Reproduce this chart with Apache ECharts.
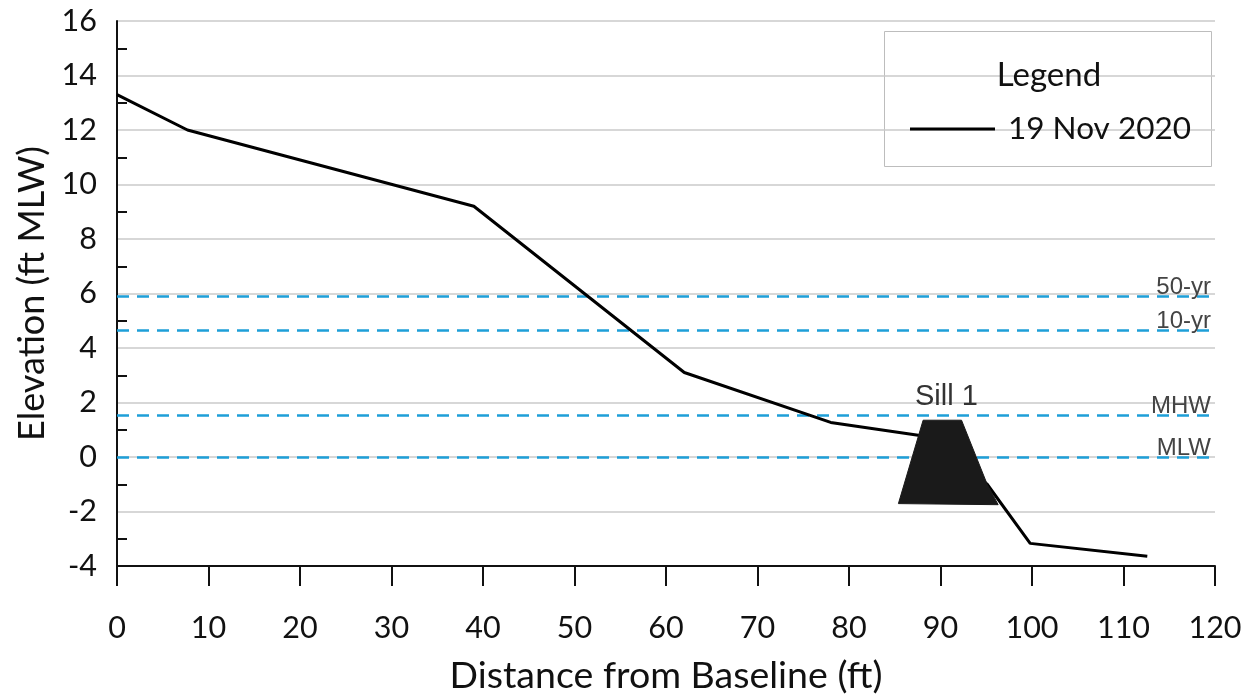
<!DOCTYPE html>
<html>
<head>
<meta charset="utf-8">
<script src="https://cdn.jsdelivr.net/npm/echarts@6/dist/echarts.min.js"></script>
<style>
  html, body { margin: 0; padding: 0; background: #fff; }
  #chart { width: 1255px; height: 700px; }
</style>
</head>
<body>
<div id="chart"></div>
<script>
// beach profile, 19 Nov 2020
const profileX = [0, 7.7, 39, 62, 78, 88.5, 95.1, 99.8, 112.6];
const profileY = [13.3, 12.0, 9.2, 3.1, 1.27, 0.75, -1.0, -3.17, -3.64];

// sill outline (clockwise from bottom left)
const sillX = [85.4, 88.1, 92.3, 95.1, 96.3];
const sillY = [-1.71, 1.35, 1.35, -1.0, -1.75];
const sillLabel = 'Sill 1';

// water levels
const levelNames = ['50-yr', '10-yr', 'MHW', 'MLW'];
const levelValues = [5.9, 4.66, 1.53, 0];

const xTicks = [0, 120, 10];
const yTicks = [-4, 16, 2];

const font = 'Lato, "Open Sans", sans-serif';
const arial = '"Liberation Sans", Arial, sans-serif';
const chart = echarts.init(document.getElementById('chart'));

chart.setOption({
  animation: false,
  backgroundColor: '#fff',
  grid: { left: 117, right: 40, top: 21, bottom: 130 },
  legend: {
    data: [{ name: '19 Nov 2020', icon: 'rect' }],
    left: 905, top: 108,
    itemWidth: 85, itemHeight: 3,
    textStyle: { fontFamily: font, fontSize: 31.5, color: '#111', padding: [0, 0, 0, 8] }
  },
  graphic: [
    { type: 'rect', shape: { x: 884.5, y: 31.5, width: 327, height: 135 },
      style: { fill: '#fff', stroke: '#bdbdbd', lineWidth: 1 }, z: 0 },
    { type: 'text', x: 1049, y: 75, z: 10,
      style: { text: 'Legend', font: '33px ' + font, fill: '#111', align: 'center', verticalAlign: 'middle' } }
  ],
  xAxis: {
    type: 'value', min: xTicks[0], max: xTicks[1], interval: xTicks[2],
    name: 'Distance from Baseline (ft)', nameLocation: 'middle', nameGap: 91,
    nameTextStyle: { fontFamily: font, fontSize: 37.5, color: '#111' },
    axisLine: { onZero: false, lineStyle: { color: '#111', width: 2 } },
    axisTick: { length: 20, lineStyle: { color: '#111', width: 2 } },
    axisLabel: { fontFamily: font, fontSize: 30.5, color: '#111', margin: 47 },
    splitLine: { show: false }
  },
  yAxis: {
    type: 'value', min: yTicks[0], max: yTicks[1], interval: yTicks[2],
    name: 'Elevation (ft MLW)', nameLocation: 'middle', nameGap: 60,
    nameTextStyle: { fontFamily: font, fontSize: 36, color: '#111' },
    axisLine: { show: true, onZero: false, lineStyle: { color: '#111', width: 2 } },
    axisTick: { show: false, inside: true },
    minorTick: { show: true, splitNumber: 2, length: 10, lineStyle: { color: '#111', width: 2 } },
    axisLabel: { fontFamily: font, fontSize: 30.5, color: '#111', margin: 20 },
    splitLine: { lineStyle: { color: '#cacaca', width: 1.5 } }
  },
  series: [
    {
      name: 'levels', type: 'line', data: [], silent: true,
      markLine: {
        silent: true, symbol: 'none',
        lineStyle: { color: '#1e9fd8', width: 2.5, type: [12, 8] },
        label: { position: 'insideEndTop', formatter: '{b}', fontFamily: arial,
                 fontSize: 24, color: '#444', distance: [4, -3] },
        data: levelNames.map((n, i) => ({ name: n, yAxis: levelValues[i] }))
      }
    },
    {
      name: '19 Nov 2020', type: 'line', symbol: 'none', z: 5,
      lineStyle: { color: '#000', width: 3 }, itemStyle: { color: '#000' },
      data: profileX.map((x, i) => [x, profileY[i]])
    },
    {
      name: 'sill', type: 'custom', z: 6,
      data: sillX.map((x, i) => [x, sillY[i]]),
      renderItem: function (params, api) {
        if (params.dataIndex !== 0) return;
        const pts = sillX.map((x, i) => api.coord([x, sillY[i]]));
        const top = api.coord([(sillX[1] + sillX[2]) / 2, sillY[1]]);
        return {
          type: 'group',
          children: [
            { type: 'polygon', shape: { points: pts }, style: { fill: '#1a1a1a', stroke: '#1a1a1a', lineWidth: 1 } },
            { type: 'text', x: top[0] + 4, y: top[1] - 23,
              style: { text: sillLabel, font: '29px ' + arial, fill: '#333',
                       align: 'center', verticalAlign: 'middle' } }
          ]
        };
      }
    }
  ]
});
</script>
</body>
</html>
